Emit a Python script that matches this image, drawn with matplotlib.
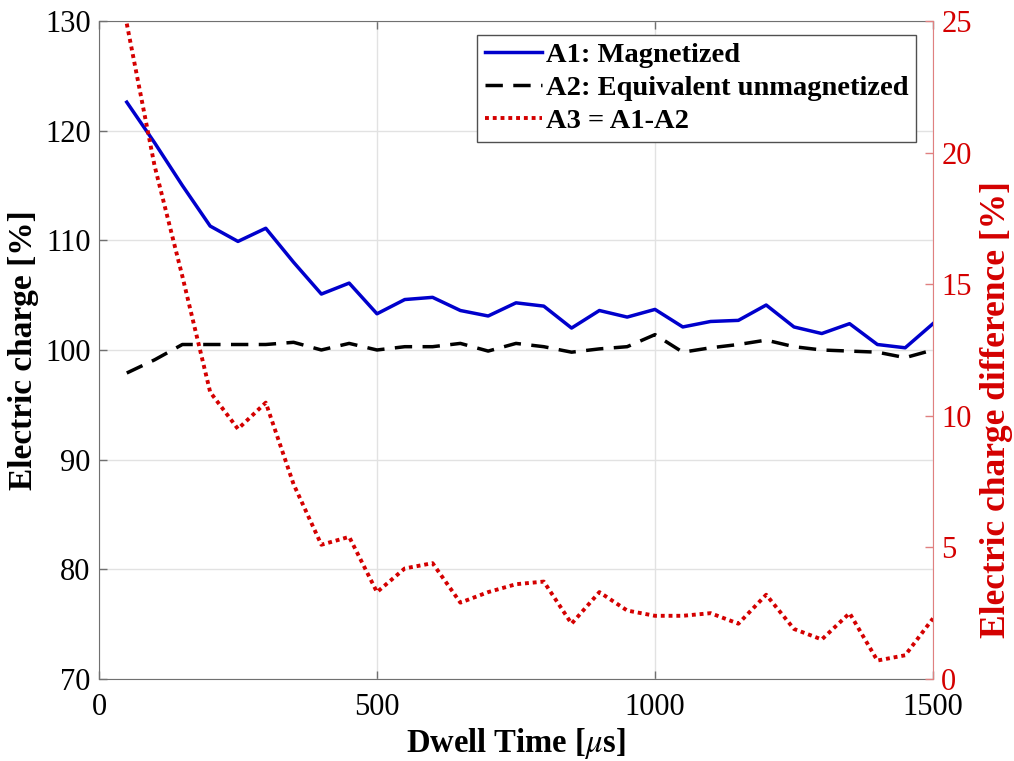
import matplotlib
matplotlib.use('Agg')
import matplotlib.pyplot as plt
import numpy as np

plt.rcParams['font.family'] = ['Liberation Serif', 'DejaVu Serif']
plt.rcParams['mathtext.fontset'] = 'stix'

# dwell time [us]
dwell = np.arange(50, 1501, 50)

# A1: magnetized [%]
a1 = [122.6, 118.9, 115.0, 111.3, 109.9, 111.1, 108.0, 105.1, 106.1, 103.3,
      104.6, 104.8, 103.6, 103.1, 104.3, 104.0, 102.0, 103.6, 103.0, 103.7,
      102.1, 102.6, 102.7, 104.1, 102.1, 101.5, 102.4, 100.5, 100.2, 102.4]
# A2: equivalent unmagnetized [%]
a2 = [97.9, 99.1, 100.5, 100.5, 100.5, 100.5, 100.7, 100.0, 100.6, 100.0,
      100.3, 100.3, 100.6, 99.9, 100.6, 100.3, 99.8, 100.1, 100.3, 101.4,
      99.8, 100.2, 100.5, 100.9, 100.3, 100.0, 99.9, 99.8, 99.3, 100.0]
# A3 = A1 - A2, charge difference [%]
a3 = [24.9, 19.5, 15.3, 10.9, 9.5, 10.5, 7.4, 5.1, 5.4, 3.3,
      4.2, 4.4, 2.9, 3.3, 3.6, 3.7, 2.1, 3.3, 2.6, 2.4,
      2.4, 2.5, 2.1, 3.2, 1.9, 1.5, 2.5, 0.7, 0.9, 2.3]

red = '#d40000'
fs = 22

fig = plt.figure(figsize=(10.14, 7.61), dpi=100)
ax = fig.add_axes([0.0976, 0.1078, 0.8225, 0.8646])
ax2 = ax.twinx()

l1, = ax.plot(dwell, a1, color='#0000cc', lw=2.5, label='A1: Magnetized')
l2, = ax.plot(dwell, a2, color='black', lw=2.5, dashes=(5, 3),
              label='A2: Equivalent unmagnetized')
l3, = ax2.plot(dwell, a3, color=red, lw=2.8, linestyle=(0, (1, 1)),
               label='A3 = A1-A2')

ax.set_xlim(0, 1500)
ax.set_ylim(70, 130)
ax.set_xticks([0, 500, 1000, 1500])
ax.set_yticks(np.arange(70, 131, 10))
ax2.set_ylim(0, 25)
ax2.set_yticks(np.arange(0, 26, 5))

ax.grid(True, color='#e2e2e2', lw=1)
ax.set_axisbelow(True)

for s in ['left', 'bottom', 'top']:
    ax.spines[s].set_color('#707070')
ax.spines['right'].set_visible(False)
for s in ['left', 'bottom', 'top']:
    ax2.spines[s].set_visible(False)
ax2.spines['right'].set_color('#e08080')

ax.tick_params(direction='in', length=6, width=1, color='#707070',
               labelsize=fs, top=True, right=False, pad=6)
ax.tick_params(axis='x', pad=10)
ax2.tick_params(direction='in', length=6, width=1, color='#e08080',
                labelcolor=red, labelsize=fs, pad=6)

ax.set_xlabel(r'Dwell Time [$\mu$s]', fontsize=23.5, fontweight='bold',
              labelpad=3)
ax.set_ylabel('Electric charge [%]', fontsize=24, fontweight='bold',
              labelpad=4)
ax2.set_ylabel('Electric charge difference [%]', fontsize=25.5,
               fontweight='bold', color=red)
ax2.yaxis.set_label_coords(1.056, 0.41)

leg = ax2.legend(handles=[l1, l2, l3], loc='upper right',
                 bbox_to_anchor=(0.9796, 0.9787), fancybox=False,
                 edgecolor='#505050', framealpha=1,
                 prop={'weight': 'bold', 'size': 20.5},
                 handlelength=2.0, handletextpad=0.15, labelspacing=0.25,
                 borderpad=0.26, borderaxespad=0)
leg.get_frame().set_linewidth(1)

fig.savefig('out.png', dpi=100)
